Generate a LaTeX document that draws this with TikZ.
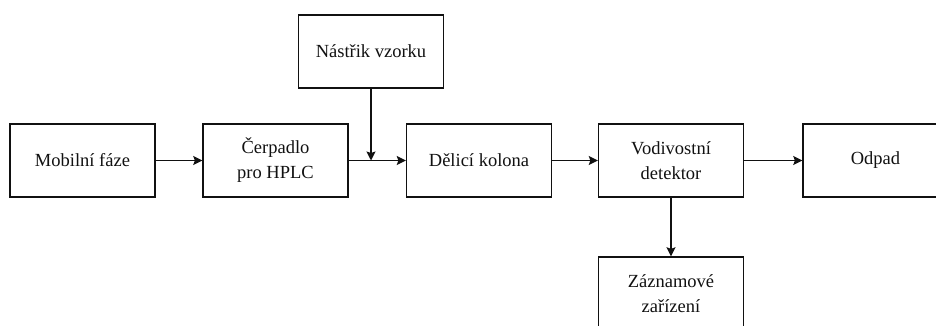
\documentclass[tikz,border=0pt]{standalone}
\usepackage{fontspec}
\setmainfont{Liberation Serif}
\usetikzlibrary{positioning,arrows.meta}
\definecolor{ink}{HTML}{111111}

\begin{document}
\begin{tikzpicture}[x=1pt, y=-1pt,
  blok/.style={draw=ink, line width=1.4pt, minimum width=145pt, minimum height=73pt,
               inner sep=0pt, align=center, text=ink, font=\fontsize{18.5}{25}\selectfont},
  tok/.style={draw=ink, line width=1.4pt, -{Stealth[length=9pt, width=9pt, inset=1.5pt]}}]
\useasboundingbox (0,0) rectangle (936,325);
% hlavni rada
\node[blok] (mobil) at (82.5,160.5) {Mobilní fáze};
\node[blok] (cerpadlo) at (275.5,160.5) {Čerpadlo\\pro HPLC};
\node[blok] (kolona) at (479,160.5) {Dělicí kolona};
\node[blok] (detektor) at (671,160.5) {Vodivostní\\detektor};
\node[blok] (odpad) at (875.5,160.5) {Odpad};
% vstup a vystup
\node[blok] (nastrik) at (371,51.5) {Nástřik vzorku};
\node[blok] (zaznam) at (671,293.5) {Záznamové\\zařízení};
\draw[tok] (mobil) -- (cerpadlo);
\draw[tok] (cerpadlo) -- (kolona);
\draw[tok] (nastrik.south) -- (nastrik.south |- kolona.west);
\draw[tok] (kolona) -- (detektor);
\draw[tok] (detektor) -- (odpad);
\draw[tok] (detektor) -- (zaznam);
\end{tikzpicture}
\end{document}
